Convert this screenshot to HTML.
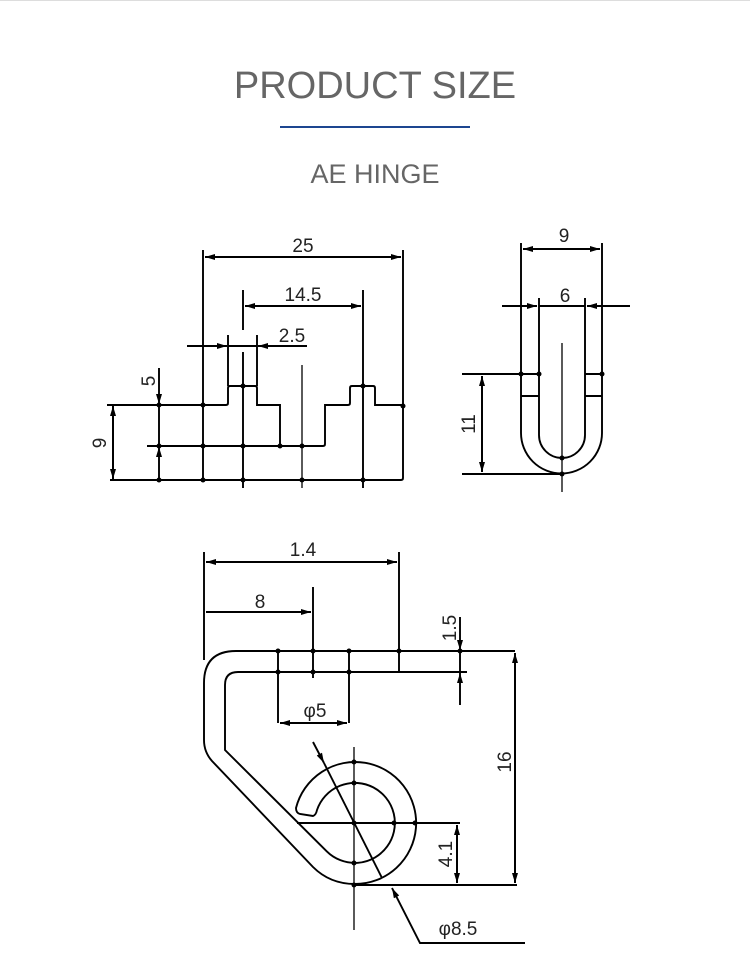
<!DOCTYPE html>
<html><head><meta charset="utf-8"><style>
html,body{margin:0;padding:0;background:#fff;}
body{width:750px;height:966px;position:relative;overflow:hidden;font-family:"Liberation Sans",sans-serif;}
.top{position:absolute;left:0;top:0;width:750px;height:1px;background:#ddd;}
h1{position:absolute;left:0;width:750px;top:65px;margin:0;text-align:center;font-weight:normal;font-size:38px;color:#666;}
.bar{position:absolute;left:280px;top:126px;width:190px;height:2px;background:#1d4690;}
h2{position:absolute;left:0;width:750px;top:159px;margin:0;text-align:center;font-weight:normal;font-size:27px;color:#666;}
svg{position:absolute;left:0;top:0;}
</style></head><body>
<div class="top"></div>
<h1>PRODUCT SIZE</h1>
<div class="bar"></div>
<h2>AE HINGE</h2>
<svg width="750" height="966" viewBox="0 0 750 966">
<defs>
<marker id="a" viewBox="0 0 10 6" refX="10" refY="3" markerWidth="11" markerHeight="6" markerUnits="userSpaceOnUse" orient="auto"><path d="M0,0 L10,3 L0,6 z" fill="#000"/></marker>
</defs>
<g stroke="#000" stroke-width="1.9" fill="none">
<!-- drawing 1 -->
<line x1="203" y1="250" x2="203" y2="480"/>
<line x1="403" y1="250" x2="403" y2="406"/>
<line x1="205" y1="257" x2="401" y2="257" marker-end="url(#a)"/>
<line x1="401" y1="257" x2="205" y2="257" marker-end="url(#a)"/>
<line x1="243" y1="290" x2="243" y2="330"/>
<line x1="243" y1="352" x2="243" y2="488"/>
<line x1="363" y1="290" x2="363" y2="488"/>
<line x1="245" y1="306" x2="361" y2="306" marker-end="url(#a)"/>
<line x1="361" y1="306" x2="245" y2="306" marker-end="url(#a)"/>
<line x1="228" y1="335" x2="228" y2="386"/>
<line x1="257" y1="335" x2="257" y2="386"/>
<line x1="187" y1="346" x2="227" y2="346" marker-end="url(#a)"/>
<line x1="228" y1="346" x2="257" y2="346"/>
<line x1="277" y1="346" x2="258" y2="346" marker-end="url(#a)"/>
<line x1="277" y1="346" x2="307" y2="346"/>
<path d="M107 405 L226 405 Q228 405 228 403 L228 388 Q228 386 230 386 L255 386 Q257 386 257 388 L257 405 L280 405 L280 446"/>
<line x1="147" y1="446" x2="323" y2="446"/>
<path d="M323 446 Q325 446 325 444 L325 405 L348 405 Q350 405 350 403 L350 388 Q350 386 352 386 L373 386 Q375 386 375 388 L375 405 L403 405 L403 478 Q403 480 401 480 L110 480"/>
<line x1="159" y1="368" x2="159" y2="404" marker-end="url(#a)"/>
<line x1="159" y1="405" x2="159" y2="446"/>
<line x1="159" y1="480" x2="159" y2="447" marker-end="url(#a)"/>
<line x1="113" y1="406" x2="113" y2="479" marker-end="url(#a)"/>
<line x1="113" y1="479" x2="113" y2="406" marker-end="url(#a)"/>
<line x1="302" y1="365" x2="302" y2="488" stroke-width="1.3"/>
<!-- drawing 2 -->
<path d="M521 243 L521 433 A40.5 40.5 0 0 0 602 433 L602 243"/>
<path d="M539 298 L539 435 A23 23 0 0 0 585 435 L585 298"/>
<line x1="523" y1="249" x2="600" y2="249" marker-end="url(#a)"/>
<line x1="600" y1="249" x2="523" y2="249" marker-end="url(#a)"/>
<line x1="502" y1="306" x2="537" y2="306" marker-end="url(#a)"/>
<line x1="539" y1="306" x2="585" y2="306"/>
<line x1="630" y1="306" x2="587" y2="306" marker-end="url(#a)"/>
<line x1="462" y1="374" x2="539" y2="374"/>
<line x1="585" y1="374" x2="602" y2="374"/>
<line x1="521" y1="396" x2="539" y2="396"/>
<line x1="585" y1="396" x2="602" y2="396"/>
<line x1="462" y1="474" x2="562" y2="474"/>
<line x1="482" y1="376" x2="482" y2="472" marker-end="url(#a)"/>
<line x1="482" y1="472" x2="482" y2="376" marker-end="url(#a)"/>
<line x1="562" y1="343" x2="562" y2="492" stroke-width="1.3"/>
<!-- drawing 3 -->
<line x1="204" y1="552" x2="204" y2="660"/>
<line x1="206" y1="562" x2="397" y2="562" marker-end="url(#a)"/>
<line x1="397" y1="562" x2="206" y2="562" marker-end="url(#a)"/>
<line x1="399" y1="552" x2="399" y2="672"/>
<line x1="206" y1="612" x2="311" y2="612" marker-end="url(#a)"/>
<line x1="313" y1="587" x2="313" y2="678"/>
<path d="M515 651 L236 651 Q204 651 204 683 L204 740 Q204 752 212 761 L313 867 Q330 884 355 884 A61 61 0 1 0 296 808 Q296 813 300 814 L313 816 Q316 815 317 810 A40 40 0 1 1 326.7 851.3 L225 750 L225 685 Q225 672 238 672 L467 672"/>
<line x1="278" y1="651" x2="278" y2="723"/>
<line x1="349" y1="651" x2="349" y2="723"/>
<line x1="280" y1="723" x2="347" y2="723" marker-end="url(#a)"/>
<line x1="347" y1="723" x2="280" y2="723" marker-end="url(#a)"/>
<line x1="460" y1="651" x2="460" y2="672"/>
<line x1="460" y1="617" x2="460" y2="650" marker-end="url(#a)"/>
<line x1="460" y1="705" x2="460" y2="673" marker-end="url(#a)"/>
<line x1="515" y1="653" x2="515" y2="883" marker-end="url(#a)"/>
<line x1="515" y1="883" x2="515" y2="653" marker-end="url(#a)"/>
<line x1="355" y1="885" x2="517" y2="885"/>
<line x1="297" y1="823" x2="460" y2="823"/>
<line x1="457" y1="825" x2="457" y2="883" marker-end="url(#a)"/>
<line x1="457" y1="883" x2="457" y2="825" marker-end="url(#a)"/>
<line x1="354" y1="747" x2="354" y2="930" stroke-width="1.3"/>
<line x1="313" y1="742" x2="324" y2="763" marker-end="url(#a)"/>
<line x1="324" y1="763" x2="382" y2="878"/>
<path d="M525 943 L420 943 L392 888" marker-end="url(#a)"/>
</g>
<g fill="#000">
<circle cx="203" cy="405" r="2.5"/><circle cx="243" cy="386" r="2.5"/><circle cx="363" cy="386" r="2.5"/><circle cx="403" cy="406" r="2.5"/>
<circle cx="159" cy="405" r="2.5"/><circle cx="159" cy="446" r="2.5"/><circle cx="203" cy="446" r="2.5"/><circle cx="243" cy="446" r="2.5"/><circle cx="280" cy="446" r="2.5"/><circle cx="302" cy="446" r="2.5"/>
<circle cx="159" cy="480" r="2.5"/><circle cx="203" cy="480" r="2.5"/><circle cx="243" cy="480" r="2.5"/><circle cx="302" cy="480" r="2.5"/><circle cx="363" cy="480" r="2.5"/>
<circle cx="521" cy="374" r="2.5"/><circle cx="539" cy="374" r="2.5"/><circle cx="602" cy="374" r="2.5"/><circle cx="562" cy="458" r="2.5"/><circle cx="562" cy="474" r="2.5"/>
<circle cx="278" cy="651" r="2.5"/><circle cx="313" cy="651" r="2.5"/><circle cx="349" cy="651" r="2.5"/><circle cx="399" cy="651" r="2.5"/><circle cx="460" cy="651" r="2.5"/>
<circle cx="278" cy="672" r="2.5"/><circle cx="313" cy="672" r="2.5"/><circle cx="349" cy="672" r="2.5"/>
<circle cx="354" cy="762" r="2.5"/><circle cx="354" cy="783" r="2.5"/><circle cx="354" cy="823" r="2.5"/><circle cx="394" cy="823" r="2.5"/><circle cx="415" cy="823" r="2.5"/><circle cx="354" cy="863" r="2.5"/><circle cx="354" cy="885" r="2.5"/>
</g>
<g font-family="Liberation Sans, sans-serif" font-size="19" fill="#222">
<text x="303" y="252" text-anchor="middle">25</text>
<text x="303" y="301" text-anchor="middle">14.5</text>
<text x="292" y="342" text-anchor="middle">2.5</text>
<text transform="translate(155,381) rotate(-90)" text-anchor="middle">5</text>
<text transform="translate(106,443) rotate(-90)" text-anchor="middle">9</text>
<text x="564" y="242" text-anchor="middle">9</text>
<text x="565" y="302" text-anchor="middle">6</text>
<text transform="translate(475,424) rotate(-90)" text-anchor="middle">11</text>
<text x="303" y="556" text-anchor="middle">1.4</text>
<text x="260" y="608" text-anchor="middle">8</text>
<text transform="translate(456,628) rotate(-90)" text-anchor="middle">1.5</text>
<text x="315" y="717" text-anchor="middle">φ5</text>
<text transform="translate(511,762) rotate(-90)" text-anchor="middle">16</text>
<text transform="translate(452,854) rotate(-90)" text-anchor="middle">4.1</text>
<text x="458" y="935" text-anchor="middle">φ8.5</text>
</g>
</svg>
</body></html>
